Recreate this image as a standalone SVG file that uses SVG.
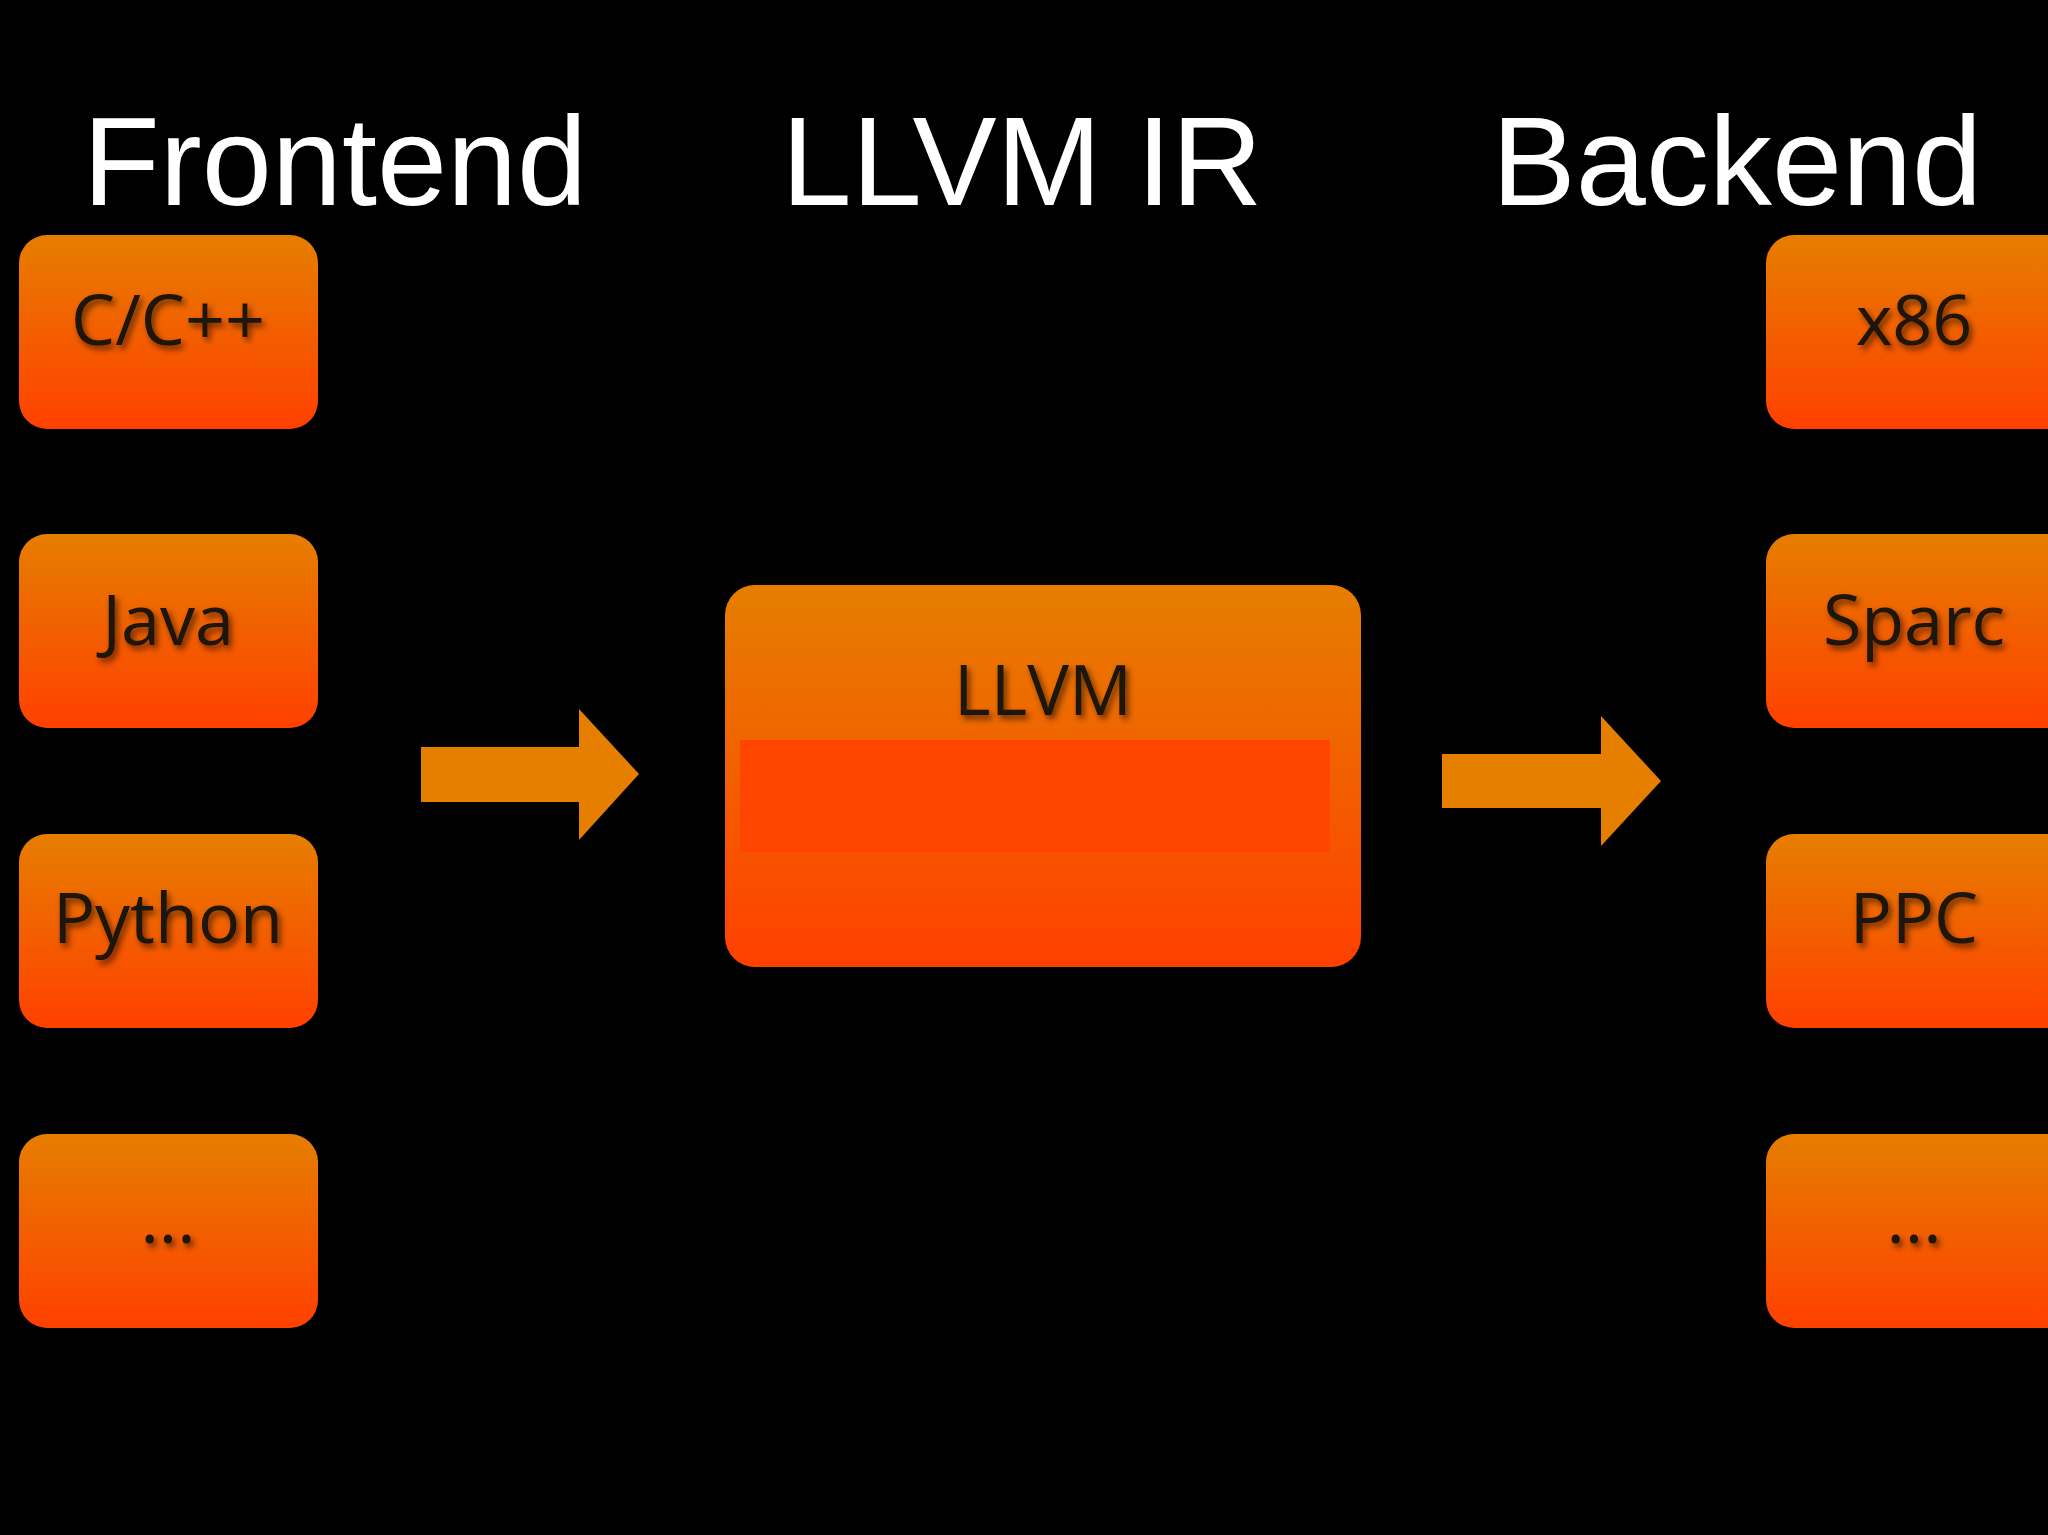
<svg xmlns="http://www.w3.org/2000/svg" width="2048" height="1535" viewBox="0 0 2048 1535">
<defs>
<linearGradient id="g" x1="0" y1="0" x2="0" y2="1"><stop offset="0" stop-color="#e67e00"/><stop offset="1" stop-color="#ff4000"/></linearGradient>
<filter id="sh" x="-20%" y="-20%" width="140%" height="140%"><feDropShadow dx="3" dy="4" stdDeviation="3" flood-color="#000" flood-opacity="0.6"/></filter>
</defs>
<style>
.title{font-family:"Liberation Sans",Arial,sans-serif;font-size:126px;fill:#fff;text-anchor:middle}
.box{fill:url(#g)}
.lbl{font-family:"Open Sans","DejaVu Sans",sans-serif;font-size:70px;fill:#1a1208;text-anchor:middle;filter:url(#sh)}
.arr{fill:#e67e00}
</style>
<rect width="2048" height="1535" fill="#000"/>
<text class="title" x="335" y="205">Frontend</text>
<text class="title" x="1022" y="205">LLVM IR</text>
<text class="title" x="1737" y="205">Backend</text>
<g id="cpp"><rect class="box" x="19" y="235" width="299" height="194" rx="28"/><text class="lbl" x="168" y="345">C/C++</text></g>
<g id="java"><rect class="box" x="19" y="534" width="299" height="194" rx="28"/><text class="lbl" x="168" y="645">Java</text></g>
<g id="python"><rect class="box" x="19" y="834" width="299" height="194" rx="28"/><text class="lbl" x="168" y="943">Python</text></g>
<g id="fmore"><rect class="box" x="19" y="1134" width="299" height="194" rx="28"/><text class="lbl" x="168" y="1243">...</text></g>
<g id="x86"><rect class="box" x="1766" y="235" width="310" height="194" rx="28"/><text class="lbl" x="1914" y="345">x86</text></g>
<g id="sparc"><rect class="box" x="1766" y="534" width="310" height="194" rx="28"/><text class="lbl" x="1914" y="645">Sparc</text></g>
<g id="ppc"><rect class="box" x="1766" y="834" width="310" height="194" rx="28"/><text class="lbl" x="1914" y="943">PPC</text></g>
<g id="bmore"><rect class="box" x="1766" y="1134" width="310" height="194" rx="28"/><text class="lbl" x="1914" y="1243">...</text></g>
<g id="llvm"><rect class="box" x="725" y="585" width="636" height="382" rx="30"/><rect x="740" y="740" width="590" height="112" fill="#ff4500"/><text class="lbl" x="1043" y="715">LLVM</text></g>
<g id="connectors">
<polygon class="arr" points="421,747 579,747 579,709 639,774 579,840 579,802 421,802"/>
<polygon class="arr" points="1442,754 1601,754 1601,716 1661,781 1601,846 1601,808 1442,808"/>
</g>
</svg>
